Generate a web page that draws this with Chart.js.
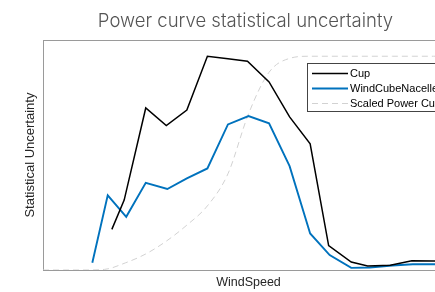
<!DOCTYPE html>
<html>
<head>
<meta charset="utf-8">
<script src="https://cdn.jsdelivr.net/npm/chart.js@4"></script>
<style>
  html, body { margin: 0; padding: 0; background: #fff; }
  #wrap { width: 435px; height: 292px; overflow: hidden; position: relative; }
  #myChart { position: absolute; left: 0; top: 0; }
</style>
</head>
<body>
<div id="wrap"><canvas id="myChart" width="494" height="292"></canvas></div>
<script>
// dados (velocidade do vento x incerteza)
const cupSpeed = [3.35, 3.95, 5, 6, 7, 8, 9, 9.95, 11, 12, 13, 13.9, 15, 15.8, 16.9, 17.95, 19, 20]
const cupValues = [0.190, 0.327, 0.758, 0.676, 0.748, 1.0, 0.988, 0.977, 0.880, 0.716, 0.590, 0.114, 0.037, 0.019, 0.022, 0.043, 0.042, 0.042]

const nacelleSpeed = [2.4, 3.15, 4.05, 5, 6.05, 7, 8, 9, 10, 11, 12, 13, 13.95, 15, 15.9, 17, 18, 19, 20]
const nacelleValues = [0.034, 0.349, 0.249, 0.408, 0.379, 0.429, 0.475, 0.681, 0.720, 0.686, 0.486, 0.171, 0.070, 0.010, 0.012, 0.021, 0.027, 0.027, 0.027]

const powerSpeed = [0, 1, 2, 3, 4, 5, 6, 7, 8, 9, 10, 11, 12, 13, 14, 15, 16, 17, 18, 19, 20]
const powerValues = [0, 0, 0, 0.003, 0.033, 0.075, 0.135, 0.21, 0.30, 0.45, 0.73, 0.925, 0.99, 1.0, 1.0, 1.0, 1.0, 1.0, 1.0, 1.0, 1.0]

const labels = ['Cup', 'WindCubeNacelle', 'Scaled Power Curve']

function pares(xs, ys) {
  return xs.map((x, i) => ({ x: x, y: ys[i] }))
}

// caixa em volta da area do grafico
const caixa = {
  id: 'caixa',
  beforeDatasetsDraw(chart) {
    const a = chart.chartArea
    const ctx = chart.ctx
    ctx.save()
    ctx.strokeStyle = '#9a9a9a'
    ctx.lineWidth = 1
    ctx.strokeRect(Math.round(a.left) + 0.5, Math.round(a.top) + 0.5, Math.round(a.right - a.left), Math.round(a.bottom - a.top))
    ctx.restore()
  }
}

// legenda dentro do grafico, estilo matlab
const legenda = {
  id: 'legenda',
  afterDraw(chart) {
    const ctx = chart.ctx
    const x0 = 307.5, y0 = 63.5, w = 180, h = 48
    ctx.save()
    ctx.fillStyle = '#fff'
    ctx.fillRect(x0, y0, w, h)
    ctx.strokeStyle = '#444'
    ctx.lineWidth = 1
    ctx.strokeRect(x0, y0, w, h)
    ctx.font = '11px "Liberation Sans", Arial, sans-serif'
    ctx.textBaseline = 'middle'
    chart.data.datasets.forEach((ds, i) => {
      const y = 73.5 + i * 15
      ctx.strokeStyle = ds.borderColor
      ctx.lineWidth = ds.borderWidth
      ctx.setLineDash(ds.borderDash || [])
      ctx.beginPath()
      ctx.moveTo(312, y)
      ctx.lineTo(348, y)
      ctx.stroke()
      ctx.setLineDash([])
      ctx.fillStyle = '#000'
      ctx.fillText(ds.label, 350, y)
    })
    ctx.restore()
  }
}

const ctx = document.getElementById('myChart')

new Chart(ctx, {
  type: 'line',
  data: {
    datasets: [
      {
        label: labels[0],
        data: pares(cupSpeed, cupValues),
        borderColor: '#000000',
        borderWidth: 1.5,
        pointRadius: 0,
        tension: 0
      },
      {
        label: labels[1],
        data: pares(nacelleSpeed, nacelleValues),
        borderColor: '#0072BD',
        borderWidth: 1.9,
        pointRadius: 0,
        tension: 0
      },
      {
        label: labels[2],
        data: pares(powerSpeed, powerValues),
        borderColor: '#d2d2d2',
        borderWidth: 1,
        borderDash: [6, 4],
        pointRadius: 0,
        cubicInterpolationMode: 'monotone'
      }
    ]
  },
  options: {
    responsive: false,
    animation: false,
    layout: { padding: { left: 19, right: 22, top: 0, bottom: 1.5 } },
    plugins: {
      legend: { display: false },
      tooltip: { enabled: false },
      title: {
        display: true,
        text: 'Power curve statistical uncertainty',
        color: '#555',
        font: { family: 'Inter, "Open Sans", sans-serif', size: 18.5, weight: '300' },
        padding: { top: 10, bottom: 8 }
      }
    },
    scales: {
      x: {
        type: 'linear',
        min: 0,
        max: 20,
        grid: { display: false, drawTicks: false },
        border: { display: false },
        ticks: { display: false },
        title: {
          display: true,
          text: 'WindSpeed',
          color: '#262626',
          font: { family: '"Liberation Sans", Arial, sans-serif', size: 12.5 },
          padding: { top: 5.5, bottom: 0 }
        }
      },
      y: {
        min: 0,
        max: 1.075,
        grid: { display: false, drawTicks: false },
        border: { display: false },
        ticks: { display: false },
        title: {
          display: true,
          text: 'Statistical Uncertainty',
          color: '#262626',
          font: { family: '"Liberation Sans", Arial, sans-serif', size: 13 },
          padding: { top: 3.2, bottom: 5.2 }
        }
      },
      // eixo vazio a direita, so para centrar o titulo como no original
      yDir: {
        position: 'right',
        min: 0,
        max: 1,
        grid: { display: false, drawTicks: false },
        border: { display: false },
        ticks: { display: false },
        afterFit(scale) { scale.width = 18 }
      }
    }
  },
  plugins: [caixa, legenda]
})
</script>
</body>
</html>
